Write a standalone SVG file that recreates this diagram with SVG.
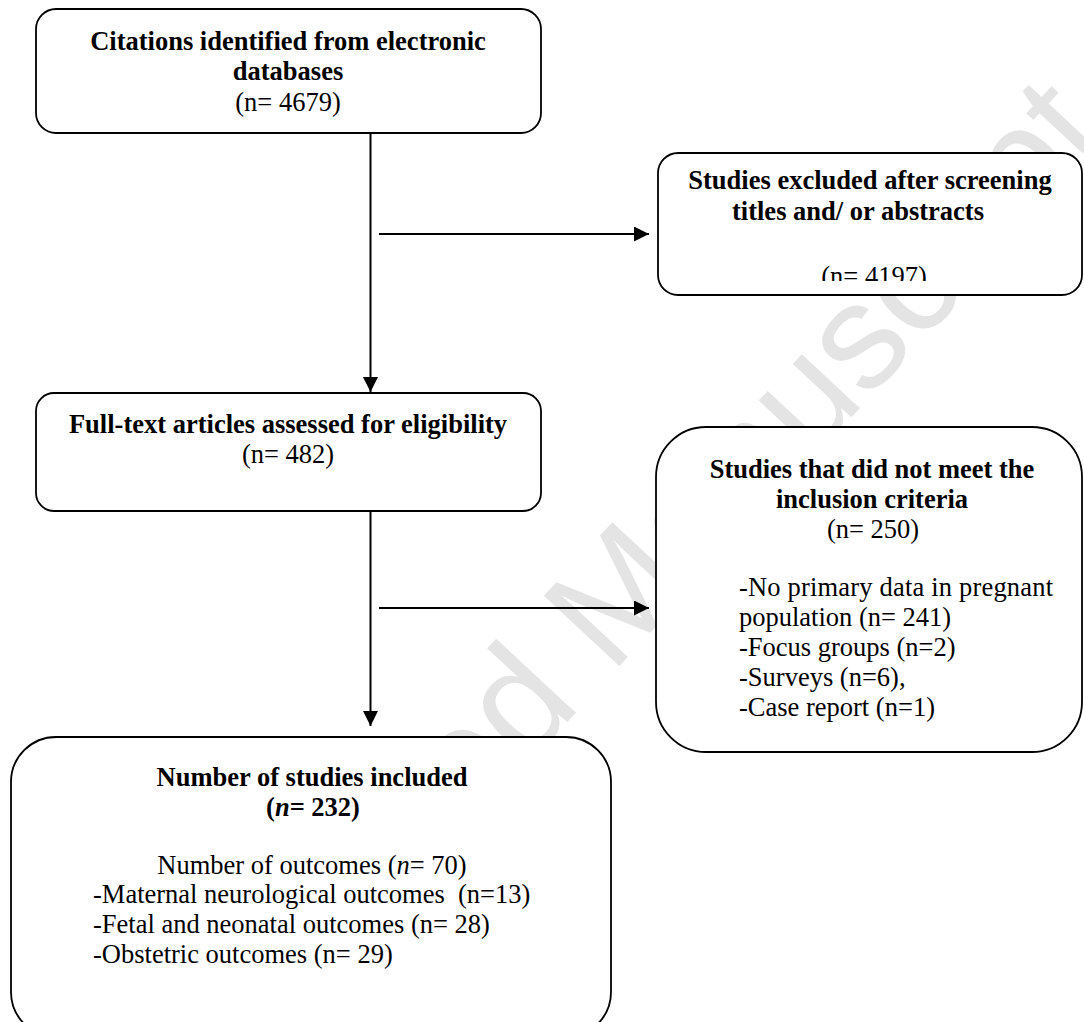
<svg xmlns="http://www.w3.org/2000/svg" width="1084" height="1022" viewBox="0 0 1084 1022">
  <style>
    .box { fill: #ffffff; stroke: #000000; stroke-width: 1.8; }
    .t { font-family: "Liberation Serif", "Times New Roman", serif; font-size: 26.5px; fill: #000000; }
    .b { font-weight: bold; }
    .c { text-anchor: middle; }
    .conn { stroke: #000000; stroke-width: 2; fill: none; marker-end: url(#arrow); }
    .wm { font-family: "Liberation Sans", Arial, sans-serif; font-size: 150px; fill: #e4e4e4; }
  </style>
  <defs>
    <marker id="arrow" markerUnits="userSpaceOnUse" markerWidth="15" markerHeight="15" refX="15" refY="7.5" orient="auto">
      <path d="M0,0 L15,7.5 L0,15 Z" fill="#000000"/>
    </marker>
    <clipPath id="clipN">
      <rect x="650" y="150" width="434" height="131"/>
    </clipPath>
  </defs>
  <rect width="1084" height="1022" fill="#ffffff"/>

  <g id="watermark">
    <text class="wm" transform="translate(156,1163) rotate(-47)">Accepted Manuscript</text>
  </g>

  <g id="node-citations">
    <rect class="box" x="36" y="9" width="505" height="124" rx="20" ry="20"/>
    <text class="t b c" x="288" y="50">Citations identified from electronic</text>
    <text class="t b c" x="288" y="80">databases</text>
    <text class="t c" x="288" y="111">(n= 4679)</text>
  </g>

  <g id="node-excluded">
    <rect class="box" x="658" y="153" width="424" height="142" rx="20" ry="20"/>
    <text class="t b c" x="870" y="189">Studies excluded after screening</text>
    <text class="t b" x="732" y="220">titles and/ or abstracts</text>
    <text class="t c" x="874" y="285" clip-path="url(#clipN)">(n= 4197)</text>
  </g>

  <g id="node-fulltext">
    <rect class="box" x="36" y="393" width="505" height="118" rx="18" ry="18"/>
    <text class="t b c" x="288" y="433">Full-text articles assessed for eligibility</text>
    <text class="t c" x="288" y="463">(n= 482)</text>
  </g>

  <g id="node-notmeet">
    <rect class="box" x="656" y="427" width="426" height="325" rx="50" ry="50"/>
    <text class="t b c" x="872" y="478">Studies that did not meet the</text>
    <text class="t b c" x="872" y="508">inclusion criteria</text>
    <text class="t c" x="873" y="538">(n= 250)</text>
    <text class="t" x="739" y="596" textLength="314" lengthAdjust="spacing">-No primary data in pregnant</text>
    <text class="t" x="739" y="626">population (n= 241)</text>
    <text class="t" x="739" y="656">-Focus groups (n=2)</text>
    <text class="t" x="739" y="686">-Surveys (n=6),</text>
    <text class="t" x="739" y="716">-Case report (n=1)</text>
  </g>

  <g id="node-included">
    <rect class="box" x="11" y="737" width="600" height="300" rx="45" ry="45"/>
    <text class="t b c" x="312" y="786">Number of studies included</text>
    <text class="t b c" x="313" y="816">(<tspan font-style="italic">n</tspan>= 232)</text>
    <text class="t c" x="312" y="874">Number of outcomes (<tspan font-style="italic">n</tspan>= 70)</text>
    <text class="t" x="93" y="903" style="white-space:pre">-Maternal neurological outcomes  (n=13)</text>
    <text class="t" x="93" y="933">-Fetal and neonatal outcomes (n= 28)</text>
    <text class="t" x="93" y="963">-Obstetric outcomes (n= 29)</text>
  </g>

  <g id="connectors">
    <path class="conn" d="M370.5,133 V392"/>
    <path class="conn" d="M379,234 H649"/>
    <path class="conn" d="M370.5,511 V726"/>
    <path class="conn" d="M379,608 H649"/>
  </g>
</svg>
